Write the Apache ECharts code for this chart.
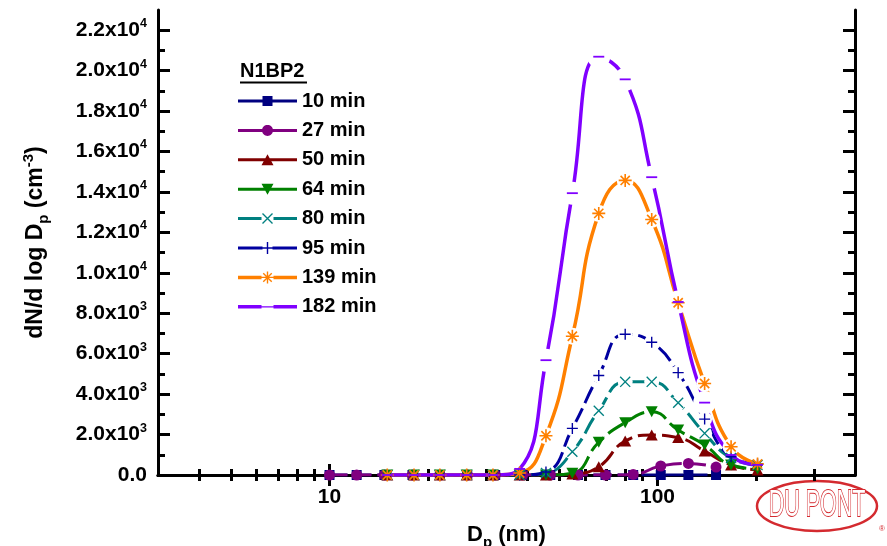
<!DOCTYPE html>
<html><head><meta charset="utf-8">
<script src="https://cdn.jsdelivr.net/npm/echarts@6/dist/echarts.min.js"></script>
<style>html,body{margin:0;padding:0;background:#fff}#c{width:887px;height:546px}</style>
</head><body><div id="c"></div>
<script>
// ---------------- data ----------------
const seriesNames = ['10 min','27 min','50 min','64 min','80 min','95 min','139 min','182 min'];
// particle diameters (nm) of the two size-bin sets
const sizesEarly = [10.0, 12.1, 14.7, 17.9, 21.7, 26.3, 32.0, 38.8, 47.1, 57.2, 69.4, 84.3, 102.3, 124.2, 150.8];
const sizesLate  = [15.0, 18.1, 21.7, 26.2, 31.5, 38.0, 45.7, 55.0, 66.2, 79.7, 96.0, 115.6, 139.2, 167.6, 201.8];
// dN/dlogDp (cm^-3)
const min10  = [0, 0, 0, 0, 0, 0, 0, 0, 0, 0, 0, 0, 0, 0, 0];
const min27  = [0, 0, 0, 0, 0, 0, 0, 0, 0, 0, 0, 30, 445, 570, 395];
const min50  = [0, 0, 0, 0, 0, 0, 0, 50, 410, 1680, 1975, 1850, 1185, 494, 250];
const min64  = [0, 0, 0, 0, 0, 0, 0, 90, 1620, 2590, 3126, 2222, 1481, 494, 300];
const min80  = [0, 0, 0, 0, 0, 0, 100, 1150, 3175, 4607, 4607, 3570, 2059, 840, 490];
const min95  = [0, 0, 0, 0, 0, 0, 150, 2306, 4923, 6963, 6568, 5062, 2765, 904, 543];
const min139 = [0, 0, 0, 0, 0, 100, 1940, 6864, 12940, 14570, 12640, 8518, 4528, 1397, 543];
const min182 = [0, 0, 0, 0, 0, 300, 5679, 13940, 20690, 19570, 14730, 8558, 3580, 990, 500];
// axis ticks
const xMajorTicks = [10, 100];
const xMinorTicks = [4, 5, 6, 7, 8, 9, 20, 30, 40, 50, 60, 70, 80, 90, 200, 300];
const yMajorTicks = [0, 2000, 4000, 6000, 8000, 10000, 12000, 14000, 16000, 18000, 20000, 22000];
const yMinorTicks = [1000, 3000, 5000, 7000, 9000, 11000, 13000, 15000, 17000, 19000, 21000];

// ---------------- shapes ----------------
function poly(pts){
  let a=0; for(let i=0;i<pts.length;i++){const p=pts[i],q=pts[(i+1)%pts.length]; a+=p[0]*q[1]-q[0]*p[1];}
  if(a>0) pts=pts.slice().reverse();
  return 'M'+pts.map(p=>p[0].toFixed(2)+','+p[1].toFixed(2)).join('L')+'Z';
}
function seg(x1,y1,x2,y2,t){const dx=x2-x1,dy=y2-y1,L=Math.hypot(dx,dy),nx=-dy/L*t/2,ny=dx/L*t/2;
  return poly([[x1+nx,y1+ny],[x2+nx,y2+ny],[x2-nx,y2-ny],[x1-nx,y1-ny]]);}
function box(x,y,w,h){return poly([[x,y],[x+w,y],[x+w,y+h],[x,y+h]]);}
function disc(cx,cy,r){const p=[];for(let i=0;i<32;i++){const a=i/32*2*Math.PI;p.push([cx+r*Math.cos(a),cy+r*Math.sin(a)]);}return poly(p);}
function dot(x,y){return poly([[x,y],[x+0.01,y],[x,y+0.01]]);}
const st=3;
const plusD = seg(12,0,12,24,st)+seg(0,12,24,12,st);
const crossD = seg(1,1,23,23,st)+seg(23,1,1,23,st)+dot(0,0)+dot(23.99,23.99);
const starD = plusD+seg(3.51,3.51,20.49,20.49,st)+seg(20.49,3.51,3.51,20.49,st);
const anchors = dot(0,0)+dot(58.99,13.99);
const lt=1.4;
const legendIcons = [
  box(0,5.5,59,3)+box(24.5,2,10,10),
  box(0,5.5,59,3)+disc(29.5,7,5.5),
  box(0,5.5,59,3)+poly([[23.5,12.5],[29.5,1.5],[35.5,12.5]]),
  box(0,5.5,59,3)+poly([[23.5,1.5],[35.5,1.5],[29.5,12.5]]),
  box(0,5.5,23.5,3)+box(35.5,5.5,23.5,3)+seg(24.5,2,34.5,12,lt)+seg(34.5,2,24.5,12,lt),
  box(0,5.5,24.5,3)+box(34.5,5.5,24.5,3)+seg(24.5,7,34.5,7,lt)+seg(29.5,1,29.5,13,lt),
  box(0,5.25,23.5,3.5)+box(35.5,5.25,23.5,3.5)+seg(23.5,7,35.5,7,lt)+seg(29.5,1,29.5,13,lt)+seg(25.26,2.76,33.74,11.24,lt)+seg(33.74,2.76,25.26,11.24,lt),
  box(0,5.25,23.5,3.5)+box(35.5,5.25,23.5,3.5)+box(23.5,6.4,12,1.2)
].map(d=>'path://'+d+anchors);

const styles = [
  {x:sizesEarly, y:min10,  color:'#000080', symbol:'rect', size:10, rot:0, dash:true, w:3, gap:0},
  {x:sizesEarly, y:min27,  color:'#800080', symbol:'circle', size:11, rot:0, dash:true, w:3, gap:0},
  {x:sizesLate,  y:min50,  color:'#800000', symbol:'triangle', size:[12,11], rot:0, dash:true, w:3, gap:0},
  {x:sizesLate,  y:min64,  color:'#008000', symbol:'triangle', size:[12,11], rot:180, dash:true, w:3, gap:0},
  {x:sizesLate,  y:min80,  color:'#008080', symbol:'path://'+crossD, size:11, rot:0, dash:true, w:3, gap:15},
  {x:sizesLate,  y:min95,  color:'#0000A0', symbol:'path://'+plusD, size:11, rot:0, dash:true, w:3, gap:15},
  {x:sizesLate,  y:min139, color:'#FF8000', symbol:'path://'+starD, size:13, rot:0, dash:false, w:3.5, gap:17},
  {x:sizesLate,  y:min182, color:'#8000FF', symbol:'rect', size:[11,1.8], rot:0, dash:false, w:3.5, gap:23}
];

const font = 'Liberation Sans';
const lines=[], gaps=[], marks=[];
styles.forEach((s,i)=>{
  const pts = s.x.map((x,k)=>[x,s.y[k]]);
  lines.push({type:'line', name:seriesNames[i], data:pts, smooth:true, symbol:'none', silent:true, z:2,
    itemStyle:{color:s.color}, lineStyle:{color:s.color, width:s.w, type:s.dash?[18,6]:'solid'}});
  if(s.gap) gaps.push({type:'scatter', data:pts.filter(p=>p[1]>1000), symbol:'circle', symbolSize:s.gap, silent:true, z:3,
    itemStyle:{color:'#fff', opacity:1}});
  marks.push({type:'scatter', data:pts, symbol:s.symbol, symbolSize:s.size, symbolRotate:s.rot, silent:true, z:4,
    itemStyle:{color:s.color, opacity:1}});
});

function yLabel(v){
  if(v===0) return '{b|0.0}';
  const e=Math.floor(Math.log10(v)+1e-9); const m=(v/Math.pow(10,e)).toFixed(1);
  return '{b|'+m+'x10}{s|'+e+'}';
}
const axisLineStyle = {show:true, lineStyle:{color:'#000', width:3}};
function xAx(pos, ticks, len, major){
  return {type:'log', logBase:10, min:3, max:400, position:pos, gridIndex:0,
    axisLine: major ? axisLineStyle : {show:false},
    axisTick:{show:true, inside:true, length:len, customValues:ticks, lineStyle:{color:'#000', width:3}},
    axisLabel:{show:false}, splitLine:{show:false}, minorTick:{show:false}};
}
function yAx(pos, ticks, len, major){
  return {type:'value', min:0, max:23000, position:pos, gridIndex:0,
    axisLine: major ? axisLineStyle : {show:false},
    axisTick:{show:true, inside:true, length:len, customValues:ticks, lineStyle:{color:'#000', width:3}},
    axisLabel:{show:false}, splitLine:{show:false}};
}
const xb = xAx('bottom', xMajorTicks, 11, true);
xb.axisLabel = {show:true, customValues:xMajorTicks, margin:12, color:'#000', fontSize:21, fontWeight:'bold', fontFamily:font,
  formatter:v=>String(Math.round(v))};
xb.name = '{a|D}{sub|p}{a| (nm)}';
xb.nameLocation = 'middle';
xb.nameGap = 45;
xb.nameTextStyle = {color:'#000', fontFamily:font, rich:{
  a:{fontSize:22, fontWeight:'bold', fontFamily:font, color:'#000', lineHeight:30},
  sub:{fontSize:15, fontWeight:'bold', fontFamily:font, color:'#000', lineHeight:15, verticalAlign:'bottom'}}};
const yl = yAx('left', yMajorTicks, 12, true);
yl.axisLabel = {show:true, customValues:yMajorTicks, margin:11, color:'#000', formatter:yLabel, rich:{
  b:{fontSize:21, fontWeight:'bold', fontFamily:font, color:'#000', lineHeight:26},
  s:{fontSize:12.5, fontWeight:'bold', fontFamily:font, color:'#000', lineHeight:12, verticalAlign:'top'}}};
yl.name = '{a|dN/d log D}{sub|p}{a| (cm}{sup|-3}{a|)}';
yl.nameLocation = 'middle';
yl.nameGap = 107;
yl.nameTextStyle = {color:'#000', fontFamily:font, rich:{
  a:{fontSize:23, fontWeight:'bold', fontFamily:font, color:'#000', lineHeight:30},
  sub:{fontSize:15, fontWeight:'bold', fontFamily:font, color:'#000', lineHeight:15, verticalAlign:'bottom'},
  sup:{fontSize:15, fontWeight:'bold', fontFamily:font, color:'#000', lineHeight:15, verticalAlign:'top'}}};

const option = {
  animation:false,
  backgroundColor:'#fff',
  grid:{left:158, right:32, top:10, bottom:71, outerBoundsMode:'none'},
  xAxis:[xb, xAx('bottom', xMinorTicks, 6, false), xAx('top', xMajorTicks, 11, true), xAx('top', xMinorTicks, 6, false)],
  yAxis:[yl, yAx('left', yMinorTicks, 7, false), yAx('right', yMajorTicks, 12, true), yAx('right', yMinorTicks, 7, false)],
  legend:{orient:'vertical', left:238, top:91, padding:0, itemWidth:59, itemHeight:14, itemGap:9.4, selectedMode:false,
    itemStyle:{borderWidth:0}, lineStyle:{type:'solid'},
    textStyle:{fontSize:20, fontWeight:'bold', fontFamily:font, color:'#000', lineHeight:20},
    data:seriesNames.map((n,i)=>({name:n, icon:legendIcons[i]}))},
  series:[...lines, ...gaps, ...marks],
  graphic:[
    {type:'text', left:240, top:61, silent:true, style:{text:'N1BP2', font:'bold 20px "Liberation Sans"', fill:'#000'}},
    {type:'line', silent:true, shape:{x1:240, y1:82.5, x2:307, y2:82.5}, style:{stroke:'#000', lineWidth:2}},
    {type:'ellipse', silent:true, shape:{cx:817, cy:506, rx:60, ry:25}, style:{stroke:'#d42a2f', lineWidth:2.5, fill:'#fff'}},
    {type:'text', silent:true, x:817, y:506, scaleX:0.58, style:{text:'DU PONT', font:'37px "Liberation Sans"', fill:'#fff', stroke:'#d42a2f', lineWidth:1.8,
      align:'center', verticalAlign:'middle', textAlign:'center', textVerticalAlign:'middle'}},
    {type:'text', silent:true, x:882, y:529, style:{text:'®', font:'8px "Liberation Sans"', fill:'#d42a2f',
      align:'center', verticalAlign:'middle', textAlign:'center', textVerticalAlign:'middle'}}
  ]
};
const chart = echarts.init(document.getElementById('c'), null, {renderer:'canvas'});
chart.setOption(option);
</script>
</body></html>
